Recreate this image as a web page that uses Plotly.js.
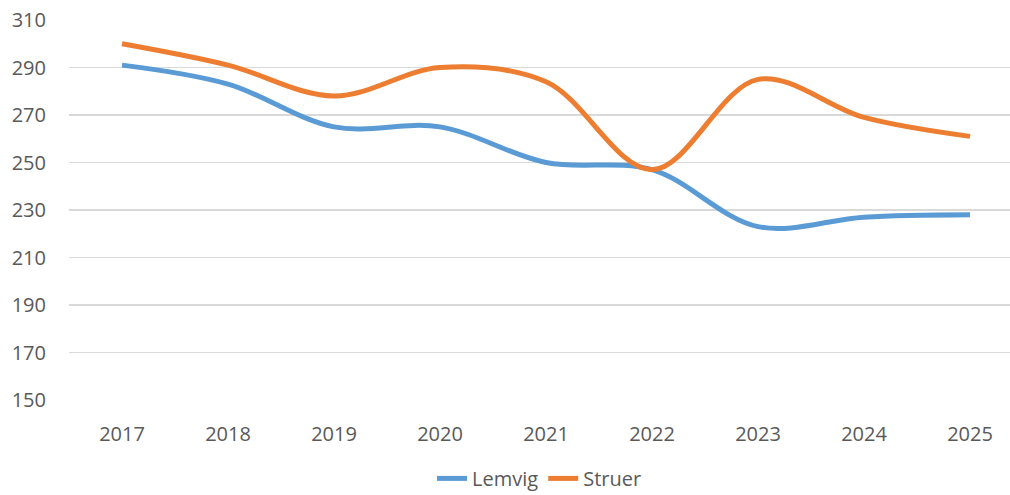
<!DOCTYPE html>
<html>
<head>
<meta charset="utf-8">
<script src="https://cdn.plot.ly/plotly-3.0.1.min.js"></script>
<style>html,body{margin:0;padding:0;background:#fff;}#chart{width:1010px;height:495px;}</style>
</head>
<body>
<div id="chart"></div>
<script>
const years = ["2017","2018","2019","2020","2021","2022","2023","2024","2025"];
const lemvig = [291, 283, 265, 265, 250, 247, 223, 227, 228];
const struer = [300, 291, 278, 290, 284, 247, 285, 269, 261];
const yTicks = [150,170,190,210,230,250,270,290,310];

const fontFam = "Open Sans, Liberation Sans, sans-serif";
const traces = [
  {x: years, y: lemvig, name: "Lemvig", type: "scatter", mode: "lines",
   line: {color: "#5B9BD5", width: 5, shape: "spline", smoothing: 1}},
  {x: years, y: struer, name: "Struer", type: "scatter", mode: "lines",
   line: {color: "#ED7D31", width: 5, shape: "spline", smoothing: 1}}
];
const layout = {
  width: 1010, height: 495,
  margin: {l: 69, r: 0, t: 20, b: 95, autoexpand: false},
  paper_bgcolor: "#fff", plot_bgcolor: "#fff",
  font: {family: fontFam, size: 20, color: "#595959"},
  showlegend: true,
  legend: {orientation: "h", x: 0.5, xanchor: "center", xref: "paper",
    y: -0.155, yref: "paper", yanchor: "top", itemwidth: 30,
    font: {family: fontFam, size: 20, color: "#595959"}},
  xaxis: {type: "category", range: [-0.5, 8.377], showgrid: false, zeroline: false,
    showline: false, ticks: "", ticklabelstandoff: 20, tickfont: {size: 20, color: "#595959"}},
  yaxis: {range: [150, 310], tickvals: yTicks, ticktext: yTicks.map(String),
    showgrid: true, gridcolor: "#D9D9D9", gridwidth: 1.5, zeroline: false,
    showline: false, ticks: "", ticklabelstandoff: 22, tickfont: {size: 20, color: "#595959"}}
};
Plotly.newPlot("chart", traces, layout, {displayModeBar: false, staticPlot: true});
</script>
</body>
</html>
